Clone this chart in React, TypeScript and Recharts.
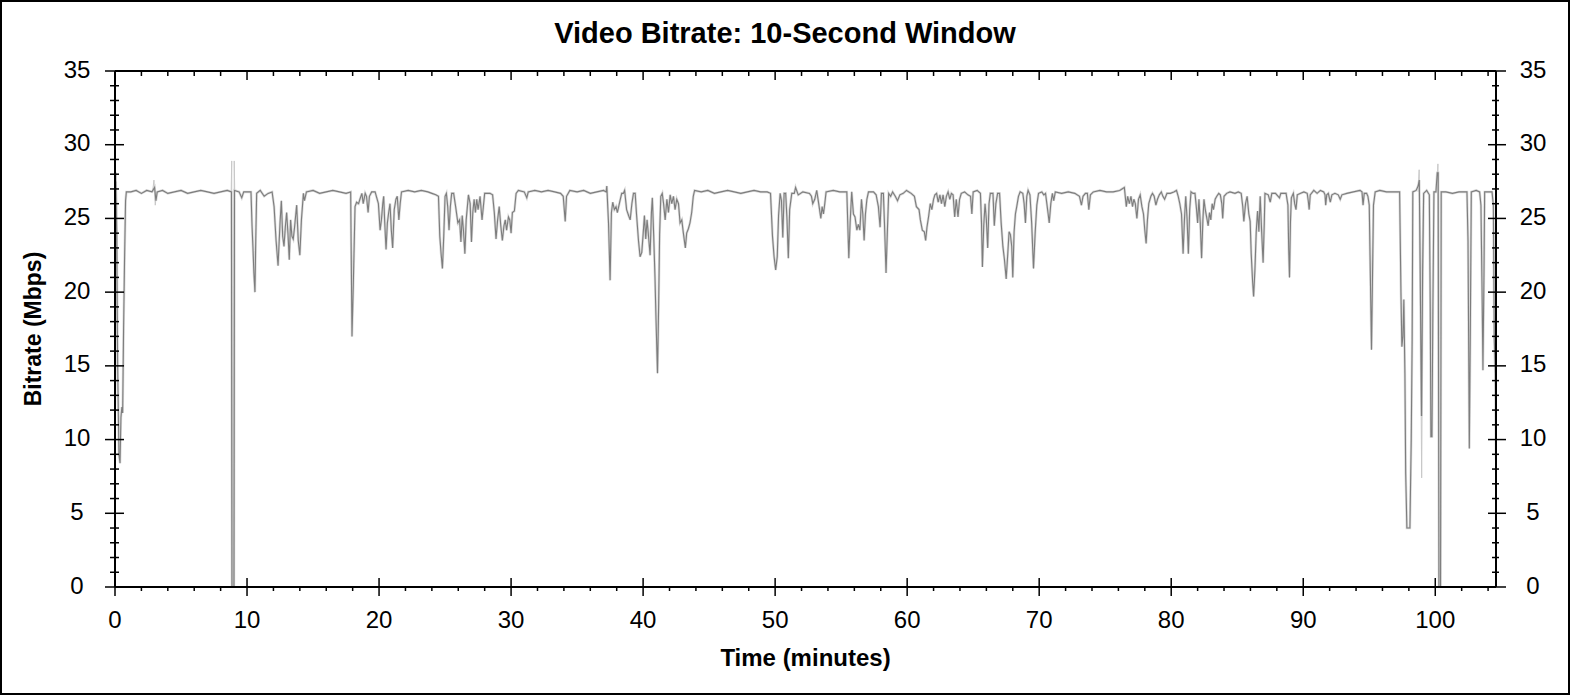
import { LineChart, Line, XAxis, YAxis } from "recharts";

// 10-second window bitrate (minutes / Mbps)
const timeMin = [
  0, 0.06, 0.13, 0.2, 0.3, 0.38, 0.45, 0.52, 0.58, 0.65, 0.72, 0.8, 0.86, 1.2, 1.6, 2.0, 2.4, 2.8, 3.0, 3.1,
  3.2, 3.6, 4.0, 4.5, 5.0, 5.5, 6.0, 6.5, 7.0, 7.5, 8.0, 8.5, 8.82, 8.86, 9.01, 9.05,
  9.4, 9.6, 9.75, 10.3, 10.38, 10.45, 10.52, 10.6, 10.66, 10.73, 11.0, 11.3, 11.6, 11.9, 12.05, 12.2, 12.35, 12.5,
  12.6, 12.7, 12.8, 12.9, 13.0, 13.1, 13.2, 13.3, 13.4, 13.5, 13.6, 13.76, 13.88, 14.0, 14.12, 14.27, 14.35, 14.5,
  15.0, 15.5, 16.0, 16.5, 17.0, 17.5, 17.85,
  17.95, 18.05, 18.18, 18.3, 18.45, 18.55, 18.7, 18.8, 18.95, 19.05, 19.17, 19.27, 19.44, 19.7, 19.95, 20.08, 20.18,
  20.28, 20.35, 20.43, 20.53, 20.63, 20.73, 20.83, 20.93, 21.03, 21.15, 21.28, 21.38, 21.5, 21.6, 21.7, 22.2, 22.7,
  23.2, 23.7, 24.0, 24.3, 24.5, 24.6, 24.7, 24.8, 24.9, 25.0, 25.1, 25.2, 25.3, 25.4, 25.5, 25.65, 25.8, 25.97,
  26.1, 26.2, 26.3, 26.4, 26.5, 26.6, 26.77, 26.9, 27.0, 27.1, 27.2, 27.3, 27.4, 27.5, 27.65, 27.8, 27.9, 28.0,
  28.4, 28.6, 28.73, 28.86, 28.98, 29.1, 29.22, 29.34, 29.46, 29.56, 29.66, 29.8, 29.9, 30.0, 30.1, 30.25, 30.38,
  30.55, 31.0, 31.19, 31.3, 31.8, 32.3, 32.8, 33.3, 33.75, 33.95, 34.1, 34.2, 34.45, 35.0, 35.5, 36.0, 36.5, 37.0,
  37.2, 37.25, 37.38, 37.5, 37.6, 37.7, 37.82, 37.95, 38.05, 38.15, 38.25, 38.38, 38.5, 38.6, 38.75, 38.9, 39.02,
  39.15, 39.27, 39.4, 39.5, 39.65, 39.77, 39.9, 40.0, 40.1, 40.2, 40.3, 40.4, 40.53, 40.63, 40.7, 40.8, 40.9, 40.98,
  41.09, 41.18, 41.25, 41.34, 41.45, 41.55, 41.67, 41.8, 41.92, 42.05, 42.17, 42.3, 42.42, 42.55, 42.68, 42.8,
  42.93, 43.05, 43.2, 43.3, 43.43, 43.55, 43.68, 43.8, 43.9, 44.4, 44.9, 45.4, 45.9, 46.4, 46.9, 47.4, 47.9, 48.4,
  48.9, 49.4, 49.65, 49.8, 49.92, 50.04, 50.16, 50.26, 50.38, 50.48, 50.58, 50.68, 50.8, 50.9, 51.0, 51.1, 51.26,
  51.45, 51.55, 51.75, 52.1, 52.6, 52.75, 52.85, 53.0, 53.15, 53.3, 53.46, 53.56, 53.66, 53.76, 53.86, 54.4, 54.9,
  55.43, 55.5, 55.58, 55.68, 55.8, 55.93, 56.05, 56.19, 56.3, 56.42, 56.54, 56.64, 56.74, 56.84, 56.95, 57.07,
  57.45, 57.65, 57.82, 57.95, 58.05, 58.2, 58.28, 58.4, 58.5, 58.6, 58.75, 58.9, 59.1, 59.27, 59.45, 59.7, 59.95,
  60.3, 60.55, 60.7, 60.9, 61.0, 61.15, 61.3, 61.4, 61.5, 61.62, 61.75, 61.87, 62.0, 62.1, 62.23, 62.35, 62.48,
  62.6, 62.72, 62.85, 62.97, 63.1, 63.23, 63.35, 63.48, 63.6, 63.72, 63.85, 63.97, 64.1, 64.35, 64.6, 64.8, 64.9,
  65.0, 65.3, 65.55, 65.63, 65.7, 65.8, 65.9, 66.0, 66.1, 66.2, 66.3, 66.5, 66.6, 66.72, 66.85, 67.0, 67.12, 67.25,
  67.37, 67.5, 67.62, 67.72, 67.82, 67.92, 68.0, 68.1, 68.2, 68.3, 68.43, 68.56, 68.76, 68.86, 68.96, 69.06, 69.16,
  69.3, 69.43, 69.57, 69.7, 69.82, 69.95, 70.2, 70.35, 70.48, 70.58, 70.68, 70.76, 70.88, 71.0, 71.1, 71.22, 71.7,
  72.2, 72.7, 73.05, 73.2, 73.32, 73.5, 73.65, 73.76, 73.88, 74.1, 74.6, 75.1, 75.6, 76.1, 76.45, 76.6, 76.7, 76.83,
  76.95, 77.07, 77.17, 77.28, 77.4, 77.52, 77.65, 77.78, 77.9, 78.0, 78.1, 78.2, 78.3, 78.46, 78.58, 78.71, 78.84,
  78.96, 79.1, 79.25, 79.37, 79.5, 79.68, 79.93, 80.2, 80.4, 80.53, 80.65, 80.78, 80.9, 81.0, 81.1, 81.2, 81.3, 81.4,
  81.5, 81.65, 81.8, 81.9, 82.0, 82.1, 82.2, 82.3, 82.4, 82.48, 82.58, 82.68, 82.8, 82.9, 83.0, 83.1, 83.2, 83.33,
  83.45, 83.6, 83.72, 83.83, 83.9, 84.0, 84.2, 84.45, 84.83, 85.08, 85.3, 85.42, 85.5, 85.63, 85.75, 85.88, 85.98,
  86.06, 86.16, 86.24, 86.34, 86.44, 86.54, 86.64, 86.74, 86.85, 86.96, 87.05, 87.1, 87.35, 87.5, 87.62, 87.9, 88.0,
  88.2, 88.3, 88.5, 88.7, 88.84, 88.9, 88.96, 89.03, 89.1, 89.25, 89.35, 89.45, 89.55, 89.8, 90.05, 90.3, 90.38,
  90.45, 90.53, 90.8, 91.05, 91.3, 91.55, 91.65, 91.7, 91.78, 91.9, 92.05, 92.17, 92.4, 92.65, 92.8, 92.93, 93.3,
  93.8, 94.3, 94.45, 94.53, 94.62, 94.8, 94.9, 95.0, 95.08, 95.17, 95.25, 95.32, 95.45, 95.8, 96.3, 96.8, 97.3,
  97.4, 97.47, 97.55, 97.62, 97.7, 97.76, 97.85, 98.08, 98.18, 98.25, 98.3, 98.55, 98.7, 98.79, 98.86, 98.96, 99.04,
  99.12, 99.35, 99.55, 99.62, 99.67, 99.75, 99.82, 99.9, 100.05, 100.15, 100.22, 100.28, 100.4, 100.45, 100.8,
  101.3, 101.8, 102.4, 102.48, 102.58, 102.65, 102.73, 103.1, 103.36, 103.46, 103.56, 103.61, 103.69, 103.74, 104.0,
  104.3, 104.4, 104.47, 104.55, 104.6,
];

const bitrateMbps = [
  22.0, 27.5, 24.0, 15.0, 9.0, 8.4, 11.5, 12.2, 11.8, 17.5, 22.0, 26.2, 26.8, 26.8, 26.9, 26.7, 26.9, 26.8, 27.1, 26.2,
  26.8, 26.9, 26.7, 26.8, 26.9, 26.7, 26.8, 26.9, 26.8, 26.7, 26.8, 26.9, 26.8, 0, 0, 26.9,
  26.8, 26.4, 26.8, 26.8, 24.5, 23.0, 21.3, 20.0, 23.5, 26.7, 26.9, 26.5, 26.7, 26.8, 25.8, 23.5, 21.8, 24.7,
  26.2, 23.8, 23.1, 24.4, 25.4, 24.0, 22.2, 24.9, 23.8, 23.6, 24.4, 25.9, 23.5, 22.5, 24.9, 26.7, 26.2, 26.8,
  26.9, 26.7, 26.8, 26.9, 26.8, 26.7, 26.8,
  17.0, 20.5, 25.8, 26.1, 26.0, 26.3, 26.7, 26.0, 26.7, 26.5, 25.4, 26.5, 26.8, 26.8, 26.0, 24.2, 24.9,
  26.0, 26.5, 24.7, 22.9, 24.7, 25.4, 26.0, 24.2, 23.0, 25.6, 26.3, 26.5, 24.9, 26.0, 26.8, 26.9, 26.8,
  26.9, 26.8, 26.7, 26.6, 26.5, 23.8, 22.6, 21.6, 23.8, 26.5, 26.7, 25.8, 24.2, 25.8, 26.7, 26.7, 25.8, 24.7,
  24.9, 23.4, 25.2, 24.1, 22.6, 24.9, 26.6, 26.0, 23.4, 25.4, 26.3, 25.4, 26.3, 25.6, 26.5, 24.9, 25.8, 26.7,
  26.7, 26.6, 25.4, 23.6, 24.9, 25.8, 24.5, 23.5, 24.5, 24.9, 24.2, 25.1, 24.9, 24.0, 25.4, 25.5, 26.7,
  26.9, 26.8, 26.4, 26.8, 26.9, 26.8, 26.9, 26.8, 26.7, 26.5, 24.8, 26.5, 26.9, 26.8, 26.9, 26.7, 26.8, 26.9,
  26.8, 27.2, 24.7, 20.8, 25.4, 26.1, 25.6, 25.8, 25.4, 25.8, 26.2, 26.7, 26.7, 26.9, 25.6, 25.2, 24.9,
  26.0, 26.7, 26.7, 25.3, 23.5, 22.4, 22.7, 23.9, 25.2, 23.6, 24.9, 23.9, 22.5, 25.4, 26.4, 23.9, 21.0, 18.1,
  14.5, 19.3, 23.9, 26.5, 26.7, 26.0, 24.9, 26.3, 25.4, 26.6, 26.0, 26.5, 25.6, 26.3, 26.0, 24.7,
  24.9, 24.0, 23.0, 24.0, 24.3, 24.7, 25.4, 26.5, 26.9, 26.8, 26.9, 26.7, 26.8, 26.9, 26.8, 26.7, 26.8, 26.9,
  26.8, 26.8, 26.7, 23.8, 22.4, 21.5, 22.4, 25.2, 26.7, 26.2, 23.7, 26.7, 26.7, 24.9, 22.3, 25.6, 26.7,
  26.7, 27.1, 26.6, 26.8, 26.7, 26.5, 26.0, 26.3, 26.9, 26.0, 25.0, 25.8, 25.3, 26.0, 26.8, 26.9, 26.8,
  26.8, 24.7, 22.3, 24.7, 26.8, 25.3, 25.1, 24.2, 24.6, 24.2, 26.3, 25.3, 23.5, 25.3, 26.3, 26.8,
  26.8, 26.6, 25.8, 24.4, 26.7, 26.7, 24.7, 21.3, 24.1, 26.7, 26.5, 26.8, 26.5, 26.2, 26.6, 26.7, 26.9,
  26.7, 26.5, 25.8, 25.6, 24.9, 24.2, 24.1, 23.5, 24.4, 25.1, 26.0, 25.6, 26.3, 26.6, 26.7, 26.1, 26.6,
  26.0, 26.6, 25.8, 26.5, 26.8, 26.3, 26.7, 26.6, 25.1, 26.3, 25.1, 26.3, 26.7, 26.8, 26.6, 26.5, 25.3,
  26.8, 26.9, 26.7, 24.7, 21.7, 24.5, 26.0, 24.9, 23.0, 26.0, 26.7, 26.7, 24.5, 26.0, 26.7, 26.7, 24.7, 23.1,
  22.2, 20.9, 22.6, 24.1, 23.9, 23.1, 21.0, 24.1, 25.3, 25.8, 26.5, 26.8, 26.7, 26.0, 24.7, 26.5, 26.9,
  26.6, 24.7, 21.6, 24.1, 25.9, 26.7, 26.8, 26.6, 26.7, 26.0, 25.3, 24.7, 26.0, 26.7, 26.2, 26.8, 26.7,
  26.8, 26.7, 26.5, 25.9, 26.5, 26.7, 26.7, 25.6, 26.6, 26.8, 26.9, 26.8, 26.8, 26.9, 27.1, 25.8, 26.5, 26.0,
  26.5, 25.8, 26.3, 26.0, 25.0, 26.3, 26.6, 25.8, 25.3, 24.2, 23.3, 24.9, 26.0, 26.5, 26.7, 26.5, 25.9,
  26.3, 26.6, 26.8, 26.5, 26.3, 26.7, 26.7, 26.8, 26.9, 26.5, 26.0, 25.3, 22.6, 24.9, 26.5, 25.0, 22.6, 25.6,
  26.8, 26.7, 26.7, 25.8, 24.7, 26.3, 24.7, 22.3, 24.9, 26.3, 25.6, 25.1, 24.5, 25.4, 24.9, 26.0, 25.6, 26.3,
  26.5, 26.7, 26.6, 26.0, 25.0, 26.5, 26.7, 26.8, 26.7, 26.8, 26.7, 25.8, 24.8, 26.0, 26.5, 25.3, 24.8,
  22.6, 20.8, 19.7, 21.5, 24.1, 25.5, 24.1, 26.5, 24.1, 22.0, 24.7, 26.7, 26.6, 26.1, 26.7, 26.7, 26.6,
  26.4, 26.7, 26.7, 26.7, 25.9, 22.9, 21.0, 24.7, 26.4, 26.7, 26.0, 25.6, 26.6, 26.7, 26.8, 26.7, 26.2,
  25.6, 26.6, 26.9, 26.7, 26.9, 26.8, 26.6, 25.9, 26.6, 26.7, 26.1, 26.6, 26.7, 26.6, 26.3, 26.6, 26.7,
  26.8, 26.9, 26.8, 25.9, 26.7, 26.7, 26.5, 25.9, 21.3, 16.1, 21.3, 25.9, 26.8, 26.9, 26.8, 26.8, 26.8,
  20.0, 16.3, 17.0, 19.5, 14.5, 7.7, 4.0, 4.0, 10.0, 16.8, 26.8, 26.9, 27.2, 27.6, 21.3, 11.6, 21.3,
  26.7, 26.9, 26.6, 19.0, 10.2, 10.2, 19.0, 26.8, 26.8, 28.1, 28.1, 0, 0, 26.8, 26.8,
  26.7, 26.8, 26.8, 23.5, 9.4, 16.8, 26.8, 26.9, 26.8, 25.9, 19.0, 14.7, 21.3, 26.8, 26.8,
  26.8, 25.9, 16.8, 14.5, 8.6,
];

// lighter trace: only where it shows past the 10-second line
const peakTimeMin = [
  0, 0.1, 0.18, 0.19,
  2.85, 2.95, 3.05, 3.15, 3.16,
  8.8, 8.84, 8.86, 8.9, 9.01, 9.03, 9.07, 9.1,
  98.7, 98.78, 98.86, 98.97, 99.06, 99.12, 99.2,
  100.12, 100.2, 100.27,
];
const peakMbps: (number | null)[] = [
  0, 28.1, 22.0, null,
  26.8, 27.6, 25.9, 26.8, null,
  26.8, 28.9, 0, null, 0, 28.9, 26.8, null,
  26.8, 28.3, 21.0, 7.4, 21.3, 26.7, null,
  26.8, 28.7, 0,
];

const xTicks = [
  0, 2, 4, 6, 8, 10, 12, 14, 16, 18, 20, 22, 24, 26, 28, 30, 32, 34, 36, 38, 40, 42, 44, 46, 48, 50, 52,
  54, 56, 58, 60, 62, 64, 66, 68, 70, 72, 74, 76, 78, 80, 82, 84, 86, 88, 90, 92, 94, 96, 98, 100, 102, 104,
];
const yTicks = [
  0, 1, 2, 3, 4, 5, 6, 7, 8, 9, 10, 11, 12, 13, 14, 15, 16, 17, 18, 19, 20, 21, 22, 23, 24, 25, 26, 27, 28,
  29, 30, 31, 32, 33, 34, 35,
];

const FONT = '"Liberation Sans", Arial, Helvetica, sans-serif';

const bitrateData = timeMin.map((t, i) => ({ t, v: bitrateMbps[i] }));
const peakData = peakTimeMin.map((t, i) => ({ t, v: peakMbps[i] }));

const isMajorX = (v: number) => Math.round(v) % 10 === 0;
const isMajorY = (v: number) => Math.round(v) % 5 === 0;

function BottomTick(props: any) {
  const { x, y, payload } = props;
  const major = isMajorX(payload.value);
  return (
    <g>
      <line x1={x} x2={x} y1={major ? y - 9 : y} y2={major ? y + 9 : y + 4} stroke="#000" strokeWidth={1.5} />
      {major && (
        <text x={x} y={y + 41} textAnchor="middle" fontSize={24} fontFamily={FONT} fill="#000">
          {payload.value}
        </text>
      )}
    </g>
  );
}

function TopTick(props: any) {
  const { x, y, payload } = props;
  const major = isMajorX(payload.value);
  return <line x1={x} x2={x} y1={y} y2={major ? y + 9 : y + 5} stroke="#000" strokeWidth={1.5} />;
}

function LeftTick(props: any) {
  const { x, y, payload } = props;
  const major = isMajorY(payload.value);
  return (
    <g>
      <line x1={major ? x - 10 : x - 5} x2={major ? x + 9 : x + 4} y1={y} y2={y} stroke="#000" strokeWidth={1.5} />
      {major && (
        <text x={x - 38} y={y + 6.5} textAnchor="middle" fontSize={24} fontFamily={FONT} fill="#000">
          {payload.value}
        </text>
      )}
    </g>
  );
}

function RightTick(props: any) {
  const { x, y, payload } = props;
  const major = isMajorY(payload.value);
  return (
    <g>
      <line x1={major ? x - 8 : x - 4} x2={major ? x + 10 : x + 3} y1={y} y2={y} stroke="#000" strokeWidth={1.5} />
      {major && (
        <text x={x + 37} y={y + 6.5} textAnchor="middle" fontSize={24} fontFamily={FONT} fill="#000">
          {payload.value}
        </text>
      )}
    </g>
  );
}

const axisLine = { stroke: "#000", strokeWidth: 2 };

export default function App() {
  return (
    <div style={{ position: "absolute", left: 0, top: 0, width: 1570, height: 695, background: "#fff" }}>
      <LineChart width={1570} height={695} data={bitrateData} margin={{ top: 0, right: 0, bottom: 0, left: 0 }}>
        <XAxis
          dataKey="t"
          type="number"
          domain={[0, 104.6]}
          allowDataOverflow
          ticks={xTicks}
          interval={0}
          height={108}
          tickSize={0}
          tickMargin={0}
          tickLine={false}
          axisLine={axisLine}
          tick={BottomTick}
        />
        <XAxis
          xAxisId="top"
          orientation="top"
          dataKey="t"
          type="number"
          domain={[0, 104.6]}
          allowDataOverflow
          ticks={xTicks}
          interval={0}
          height={71}
          tickSize={0}
          tickMargin={0}
          tickLine={false}
          axisLine={axisLine}
          tick={TopTick}
        />
        <YAxis
          type="number"
          domain={[0, 35]}
          allowDataOverflow
          ticks={yTicks}
          interval={0}
          width={115}
          tickSize={0}
          tickMargin={0}
          tickLine={false}
          axisLine={axisLine}
          tick={LeftTick}
        />
        <YAxis
          yAxisId="right"
          orientation="right"
          type="number"
          domain={[0, 35]}
          allowDataOverflow
          ticks={yTicks}
          interval={0}
          width={74}
          tickSize={0}
          tickMargin={0}
          tickLine={false}
          axisLine={axisLine}
          tick={RightTick}
        />
        {/* soft fringe under the main trace, like the jitter in the original */}
        <Line
          dataKey="v"
          type="linear"
          stroke="#dadada"
          strokeWidth={2.5}
          dot={false}
          isAnimationActive={false}
        />
        <Line
          data={peakData}
          dataKey="v"
          type="linear"
          stroke="#c8c8c8"
          strokeWidth={1}
          dot={false}
          isAnimationActive={false}
        />
        <Line
          dataKey="v"
          type="linear"
          stroke="#7d7d7d"
          strokeWidth={1.1}
          dot={false}
          isAnimationActive={false}
        />
      </LineChart>
      <svg
        width={1570}
        height={695}
        style={{ position: "absolute", left: 0, top: 0, pointerEvents: "none" }}
        fontFamily={FONT}
      >
        <rect x={1} y={1} width={1568} height={693} fill="none" stroke="#000" strokeWidth={2} />
        <text x={785} y={43} textAnchor="middle" fontSize={29} fontWeight="bold" fill="#000">
          Video Bitrate: 10-Second Window
        </text>
        <text x={805.5} y={665.5} textAnchor="middle" fontSize={24} fontWeight="bold" fill="#000">
          Time (minutes)
        </text>
        <text
          x={41}
          y={329}
          textAnchor="middle"
          fontSize={23}
          fontWeight="bold"
          fill="#000"
          transform="rotate(-90, 41, 329)"
        >
          Bitrate (Mbps)
        </text>
      </svg>
    </div>
  );
}
